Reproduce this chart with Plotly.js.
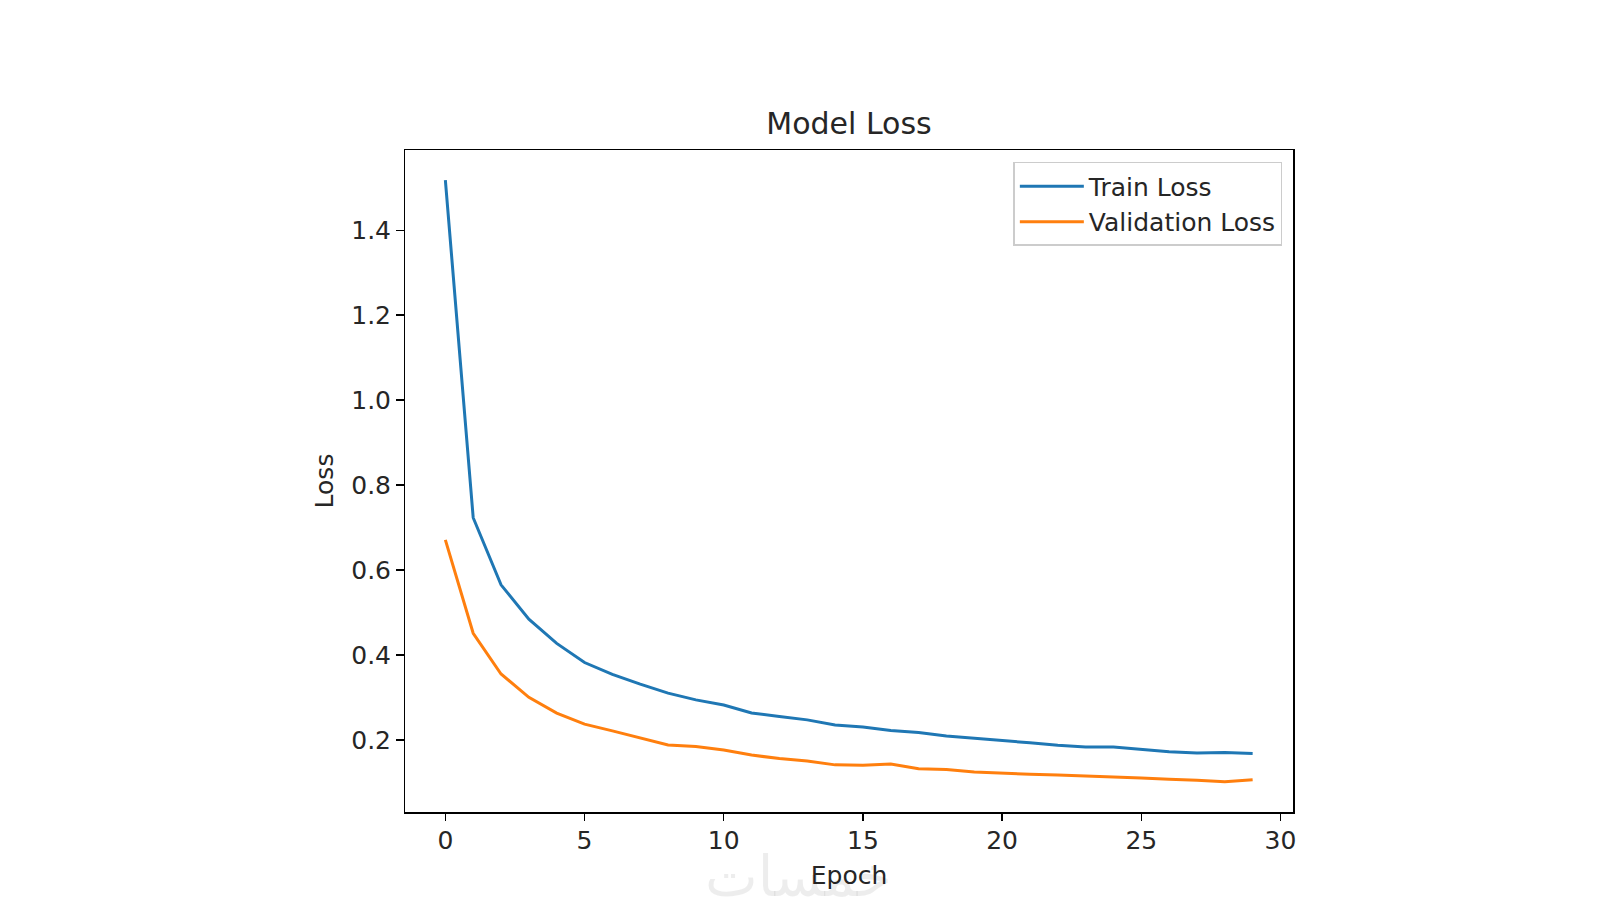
<!DOCTYPE html>
<html>
<head>
<meta charset="utf-8">
<script src="https://cdn.plot.ly/plotly-3.0.1.min.js"></script>
<style>html,body{margin:0;padding:0;background:#fff;}#chart{width:1600px;height:917px;}</style>
</head>
<body>
<div id="chart"></div>
<script>
const epochs = [0,1,2,3,4,5,6,7,8,9,10,11,12,13,14,15,16,17,18,19,20,21,22,23,24,25,26,27,28,29];
const trainLoss = [1.518,0.723,0.565,0.484,0.427,0.382,0.354,0.331,0.310,0.294,0.282,0.263,0.255,0.247,0.235,0.230,0.222,0.217,0.209,0.204,0.199,0.193,0.187,0.183,0.183,0.178,0.172,0.169,0.170,0.168];
const valLoss = [0.671,0.451,0.355,0.300,0.263,0.237,0.221,0.204,0.188,0.184,0.176,0.164,0.156,0.150,0.141,0.140,0.143,0.132,0.130,0.124,0.121,0.119,0.117,0.115,0.112,0.110,0.107,0.105,0.101,0.106];
const xTicks = [0,5,10,15,20,25,30];
const yTicks = [0.2,0.4,0.6,0.8,1.0,1.2,1.4];

const FONT = 'DejaVu Sans, sans-serif';
const TXT = '#262626';

const traces = [
  {x: epochs, y: trainLoss, type: 'scatter', mode: 'lines', name: 'Train Loss',
   line: {color: '#1f77b4', width: 3}},
  {x: epochs, y: valLoss, type: 'scatter', mode: 'lines', name: 'Validation Loss',
   line: {color: '#ff7f0e', width: 3}}
];

const layout = {
  width: 1600, height: 917,
  paper_bgcolor: '#fff', plot_bgcolor: '#fff',
  margin: {l: 405, r: 307, t: 150, b: 105, pad: 0},
  font: {family: FONT, color: TXT, size: 25},
  title: {text: 'Model Loss', font: {family: FONT, size: 30, color: TXT},
          x: 0.5, xanchor: 'center', xref: 'paper', y: 0.865, yanchor: 'middle', yref: 'container'},
  showlegend: true,
  legend: {x: 0.988, xanchor: 'right', y: 0.982, yanchor: 'top', itemwidth: 64,
           bgcolor: 'rgba(255,255,255,0.8)', bordercolor: '#cccccc', borderwidth: 1.5,
           font: {family: FONT, size: 25, color: TXT}},
  xaxis: {
    range: [-1.45, 30.45], tickvals: xTicks, ticktext: xTicks.map(String),
    showgrid: false, zeroline: false,
    showline: true, linecolor: '#000', linewidth: 1.5, mirror: true,
    ticks: 'outside', ticklen: 7.5, tickwidth: 1.5, tickcolor: '#000',
    ticklabelstandoff: -2,
    tickfont: {family: FONT, size: 25, color: TXT},
    title: {text: 'Epoch', font: {family: FONT, size: 25, color: TXT}, standoff: 12},
    automargin: false
  },
  yaxis: {
    range: [0.030, 1.589], tickvals: yTicks, ticktext: yTicks.map(v => v.toFixed(1)),
    showgrid: false, zeroline: false,
    showline: true, linecolor: '#000', linewidth: 1.5, mirror: true,
    ticks: 'outside', ticklen: 7.5, tickwidth: 1.5, tickcolor: '#000',
    tickfont: {family: FONT, size: 25, color: TXT},
    title: {text: 'Loss', font: {family: FONT, size: 25, color: TXT}, standoff: 10},
    automargin: false
  },
  annotations: [
    {text: 'خمسات', xref: 'paper', yref: 'paper', x: 0.443, y: -0.093, xanchor: 'center', yanchor: 'middle',
     showarrow: false, font: {family: 'Noto Sans, DejaVu Sans, sans-serif', size: 56, color: 'rgba(0,0,0,0.07)'}}
  ]
};

Plotly.newPlot('chart', traces, layout, {displayModeBar: false, staticPlot: true});
</script>
</body>
</html>
